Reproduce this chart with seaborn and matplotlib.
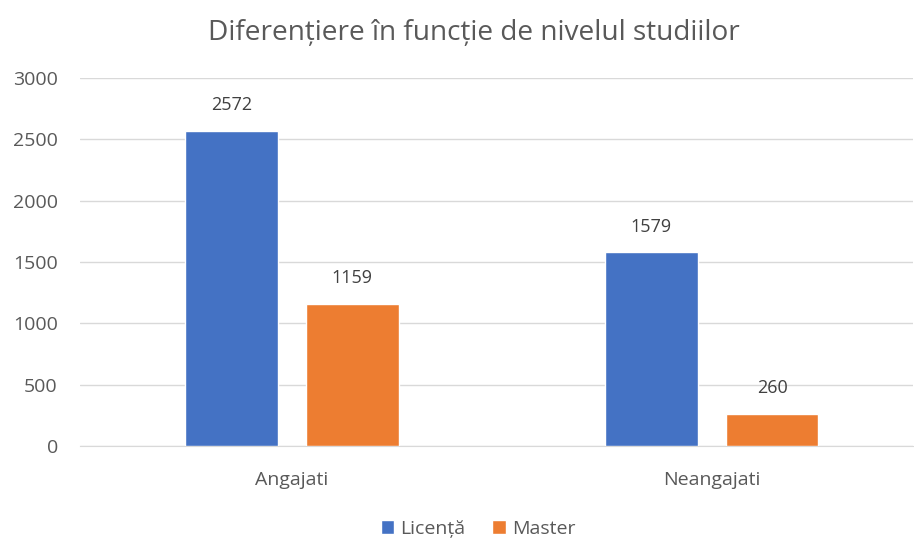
import pandas as pd
import matplotlib.pyplot as plt
import seaborn as sns

categories = ["Angajati", "Neangajati"]
series = ["Licență", "Master"]
licenta = [2572, 1579]
master = [1159, 260]

df = pd.DataFrame({
    "categorie": categories * 2,
    "nivel": [series[0]] * 2 + [series[1]] * 2,
    "valoare": licenta + master,
})

sns.set_style("white")
plt.rcParams["font.family"] = ["Open Sans", "DejaVu Sans"]
text_color = "#595959"

fig = plt.figure(figsize=(9.14, 5.39), dpi=100)
ax = fig.add_axes([0.0875, 0.1725, 0.911, 0.6825])

sns.barplot(data=df, x="categorie", y="valoare", hue="nivel",
            palette=["#4472C4", "#ED7D31"], width=0.576, gap=0.233,
            saturation=1, ax=ax, zorder=3)

for c in ax.containers:
    ax.bar_label(c, padding=12, fontsize=13, color="#404040")

ax.set_xlim(-0.505, 1.479)
ax.set_ylim(0, 3000)
ax.set_yticks(range(0, 3001, 500))
ax.yaxis.grid(True, color="#D9D9D9", linewidth=1, zorder=0)
ax.tick_params(axis="both", labelsize=14, colors=text_color, length=0)
ax.tick_params(axis="y", pad=16)
ax.tick_params(axis="x", pad=18)
ax.set_xlabel("")
ax.set_ylabel("")
for s in ["top", "right", "left"]:
    ax.spines[s].set_visible(False)
ax.spines["bottom"].set_color("#D9D9D9")

ax.legend(loc="center", bbox_to_anchor=(0.478, -0.225), ncol=2, frameon=False,
          fontsize=14, labelcolor=text_color, handlelength=0.7, handleheight=0.7,
          handletextpad=0.3, columnspacing=1.4)

fig.suptitle("Diferențiere în funcție de nivelul studiilor", fontsize=20.2,
             color=text_color, x=0.518, y=0.965)

fig.savefig("out.png", dpi=100)
